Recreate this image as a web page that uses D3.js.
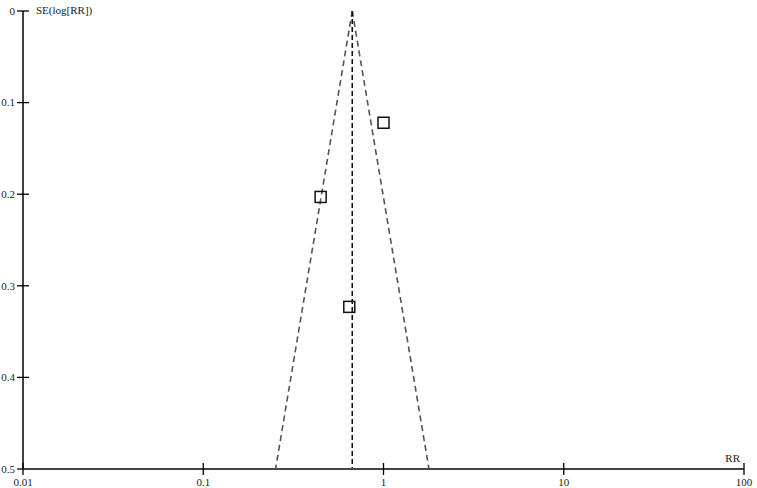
<!DOCTYPE html>
<html>
<head>
<meta charset="utf-8">
<script src="https://cdn.jsdelivr.net/npm/d3@7"></script>
<style>
  body { margin: 0; background: #fff; }
  svg text { font-family: "Liberation Serif", "Times New Roman", serif; font-size: 11px; fill: #222; }
</style>
</head>
<body>
<div id="chart"></div>
<script>
// 研究データ（RR と SE(log[RR])）
const studyRR = [1.0, 0.448, 0.646];
const studySE = [0.122, 0.203, 0.323];
const pooledRR = 0.671;
const xTicks = [0.01, 0.1, 1, 10, 100];
const xTickLabels = ["0.01", "0.1", "1", "10", "100"];
const yTicks = [0, 0.1, 0.2, 0.3, 0.4, 0.5];
const yTickLabels = ["0", "0.1", "0.2", "0.3", "0.4", "0.5"];

const W = 757, H = 488;
const margin = {top: 11, right: 13, bottom: 19, left: 23};

const svg = d3.select("#chart").append("svg")
  .attr("width", W).attr("height", H);

const x = d3.scaleLog().domain([0.01, 100]).range([margin.left, W - margin.right]);
const y = d3.scaleLinear().domain([0, 0.5]).range([margin.top, H - margin.bottom]);

// ファンネル（95%信頼限界）
const maxSE = 0.5;
const lnP = Math.log(pooledRR);
const funnelL = [[pooledRR, 0], [Math.exp(lnP - 1.96 * maxSE), maxSE]];
const funnelR = [[pooledRR, 0], [Math.exp(lnP + 1.96 * maxSE), maxSE]];
const line = d3.line().x(d => x(d[0])).y(d => y(d[1]));

[funnelL, funnelR].forEach(f => {
  svg.append("path")
    .attr("d", line(f))
    .attr("fill", "none")
    .attr("stroke", "#555")
    .attr("stroke-width", 1.6)
    .attr("stroke-dasharray", "6,4");
});

// 統合推定値の縦線
svg.append("path")
  .attr("d", line([[pooledRR, 0], [pooledRR, maxSE]]))
  .attr("fill", "none")
  .attr("stroke", "#111")
  .attr("stroke-width", 1.6)
  .attr("stroke-dasharray", "5,3");

// 軸
const yAxis = svg.append("g");
yAxis.append("line")
  .attr("x1", x(0.01)).attr("x2", x(0.01))
  .attr("y1", y(0)).attr("y2", y(0.5))
  .attr("stroke", "#000").attr("stroke-width", 1.5);
yAxis.selectAll(".ytick")
  .data(yTicks)
  .enter().append("line")
  .attr("x1", x(0.01) - 6).attr("x2", x(0.01) + 6)
  .attr("y1", d => y(d)).attr("y2", d => y(d))
  .attr("stroke", "#000").attr("stroke-width", 1.3);
yAxis.selectAll(".ylab")
  .data(yTicks)
  .enter().append("text")
  .attr("x", x(0.01) - 8)
  .attr("y", d => y(d))
  .attr("dy", "0.35em")
  .attr("text-anchor", "end")
  .text((d, i) => yTickLabels[i]);

const xAxis = svg.append("g");
xAxis.append("line")
  .attr("x1", x(0.01)).attr("x2", x(100))
  .attr("y1", y(0.5)).attr("y2", y(0.5))
  .attr("stroke", "#444").attr("stroke-width", 2);
xAxis.selectAll(".xtick")
  .data(xTicks)
  .enter().append("line")
  .attr("x1", d => x(d)).attr("x2", d => x(d))
  .attr("y1", y(0.5) - 6).attr("y2", y(0.5) + 6)
  .attr("stroke", "#000").attr("stroke-width", 1.3);
xAxis.selectAll(".xlab")
  .data(xTicks)
  .enter().append("text")
  .attr("x", d => x(d))
  .attr("y", y(0.5) + 17)
  .attr("text-anchor", "middle")
  .text((d, i) => xTickLabels[i]);

// 軸ラベル
svg.append("text")
  .attr("x", x(0.01) + 13)
  .attr("y", y(0) + 3)
  .text("SE(log[RR])");
svg.append("text")
  .attr("x", x(100) - 4)
  .attr("y", y(0.5) - 7)
  .attr("text-anchor", "end")
  .text("RR");

// 各研究の四角マーカー
const sq = 11;
svg.selectAll(".study")
  .data(studyRR)
  .enter().append("rect")
  .attr("x", d => x(d) - sq / 2)
  .attr("y", (d, i) => y(studySE[i]) - sq / 2)
  .attr("width", sq).attr("height", sq)
  .attr("fill", "none")
  .attr("stroke", "#111")
  .attr("stroke-width", 1.5);
</script>
</body>
</html>
